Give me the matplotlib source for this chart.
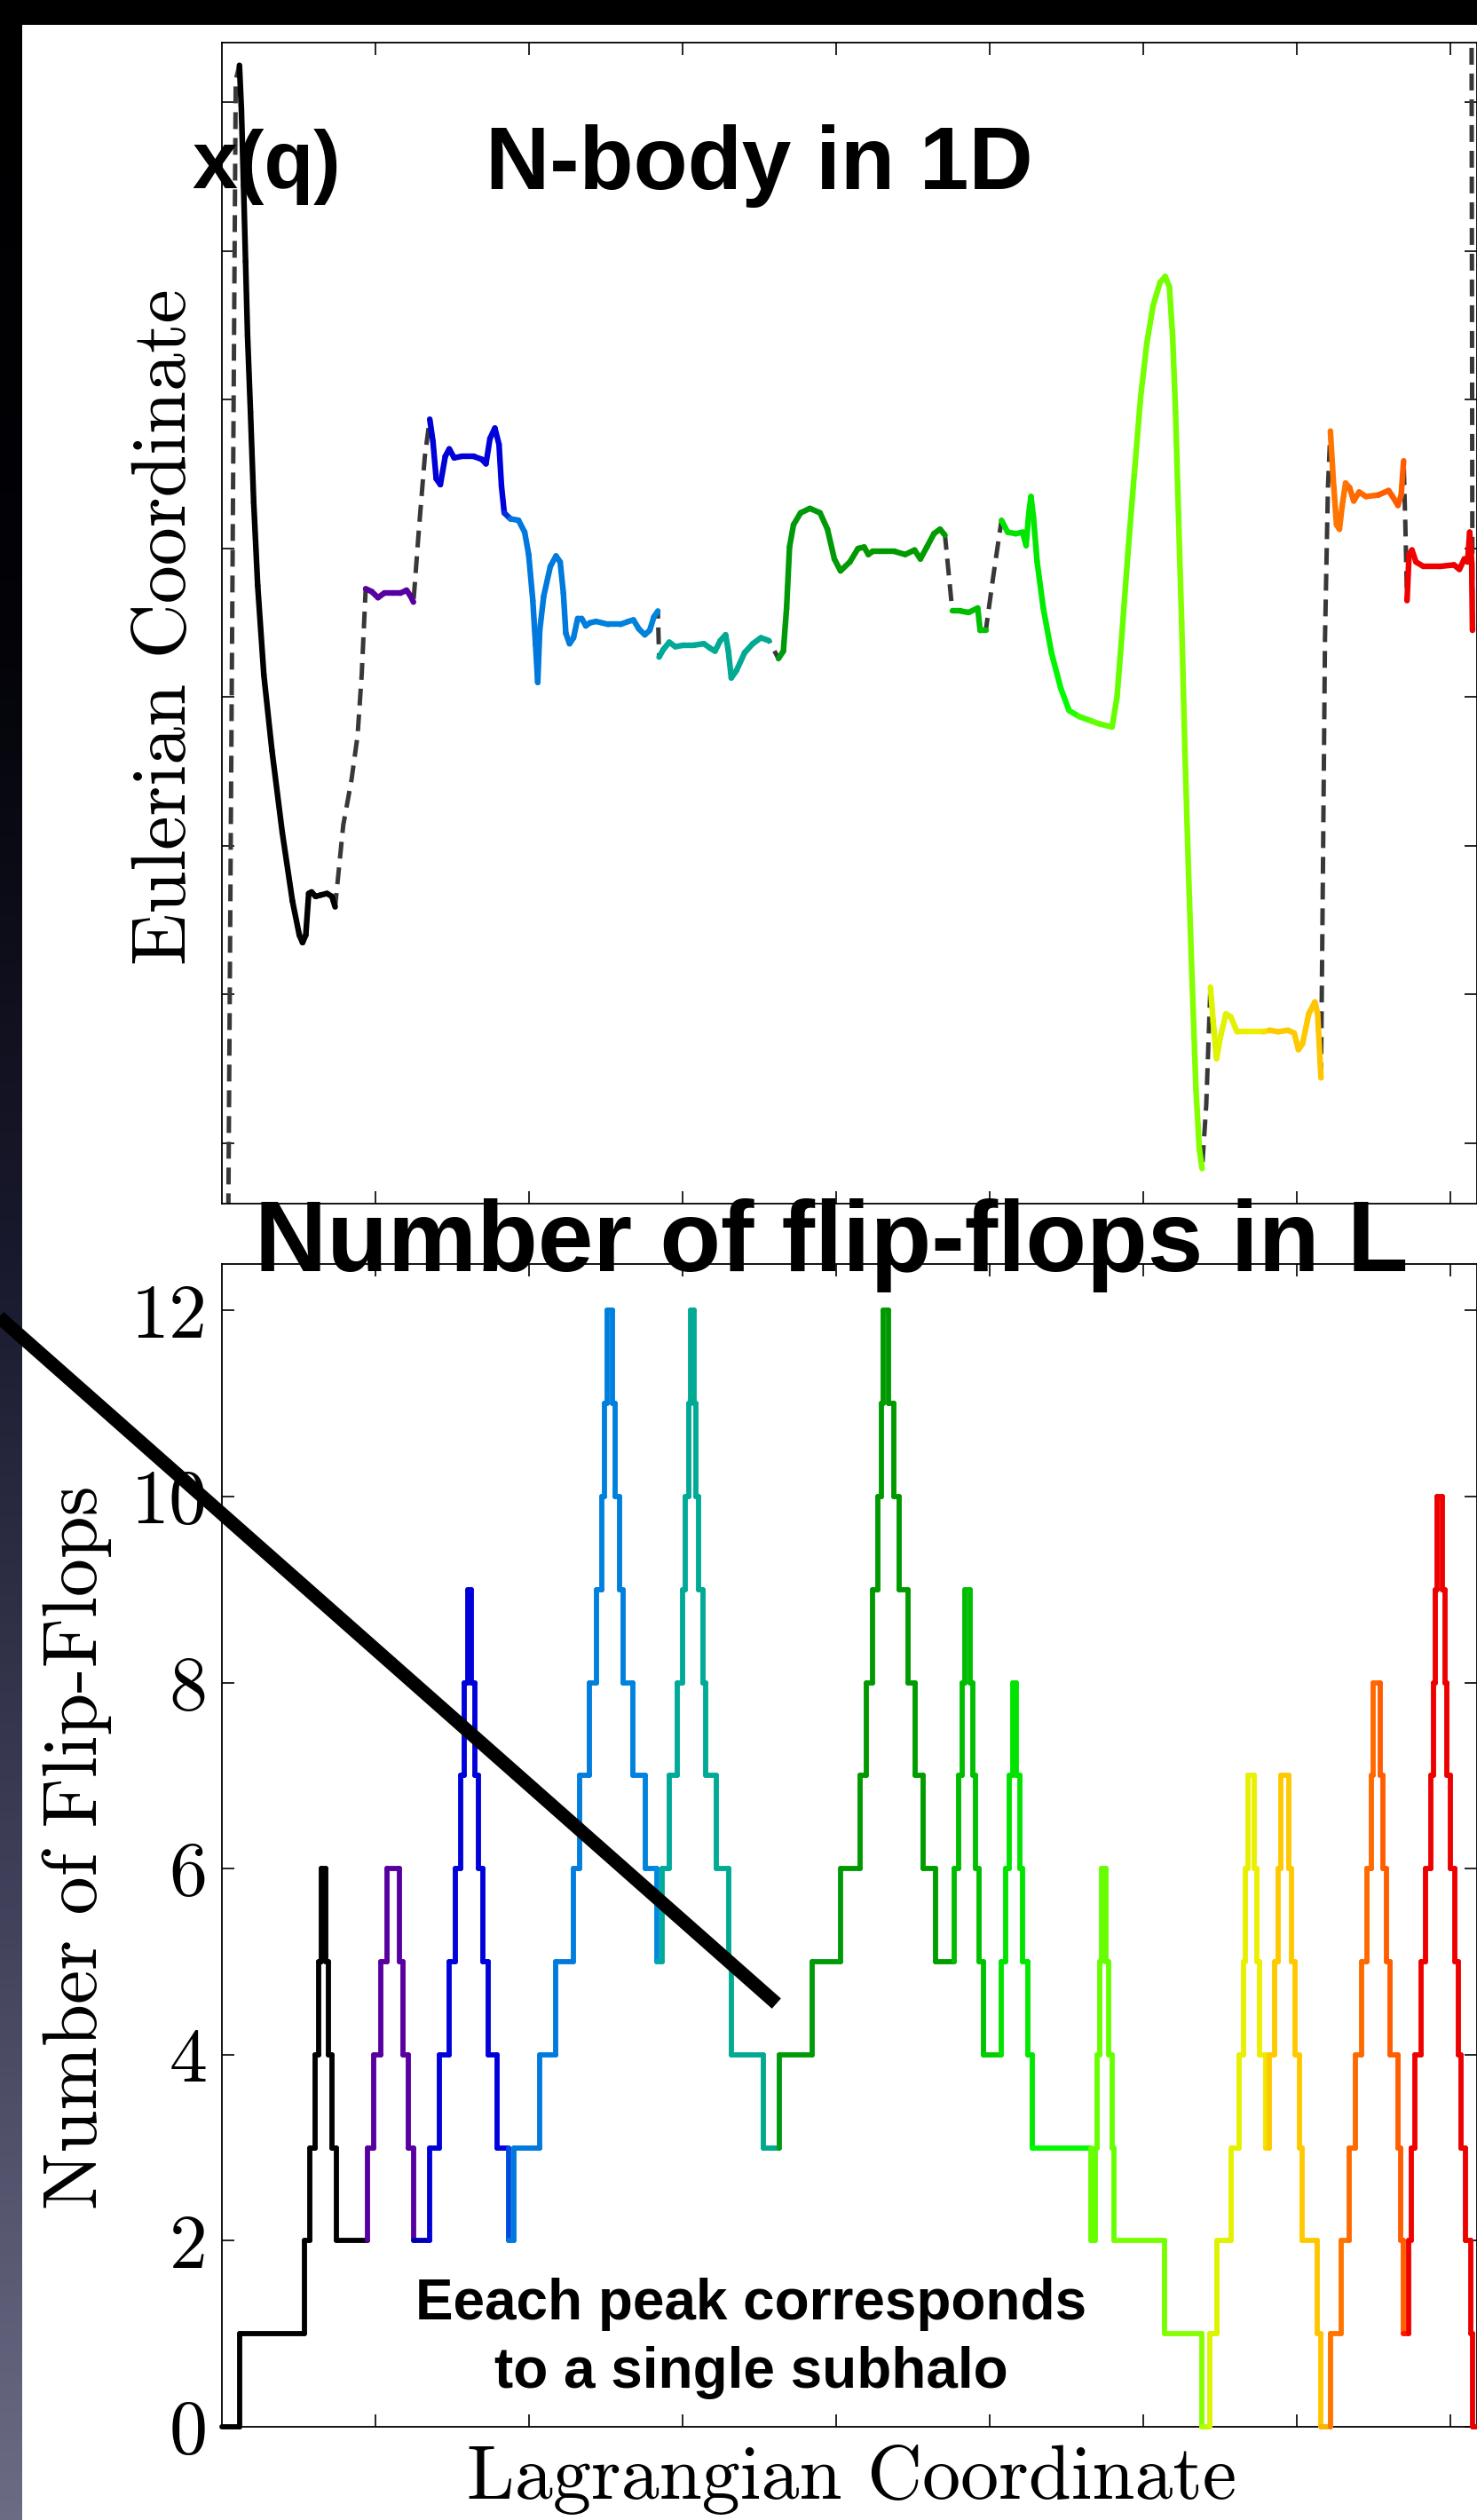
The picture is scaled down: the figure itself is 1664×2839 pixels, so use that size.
import numpy as np
import matplotlib
matplotlib.use("Agg")
import matplotlib.pyplot as plt
from matplotlib.collections import LineCollection
from matplotlib.colors import LinearSegmentedColormap
from matplotlib.patches import Rectangle

# ---------------------------------------------------------------------------
# top panel: Eulerian position x(q), one colored piece per subhalo
halo_black_q = [0.114, 0.127, 0.141, 0.154, 0.167, 0.186, 0.207, 0.233, 0.273, 0.326, 0.393,
                0.459, 0.504, 0.525, 0.546, 0.565, 0.584, 0.610, 0.645, 0.684, 0.716, 0.737]
halo_black_x = [8.25, 7.95, 7.44, 6.93, 6.43, 5.92, 5.31, 4.75, 4.15, 3.64, 3.09,
                2.63, 2.40, 2.35, 2.40, 2.68, 2.69, 2.66, 2.67, 2.68, 2.66, 2.59]

halo_purple_q = [0.936, 0.976, 1.016, 1.056, 1.109, 1.162, 1.202, 1.228, 1.247]
halo_purple_x = [4.73, 4.71, 4.67, 4.70, 4.70, 4.70, 4.72, 4.68, 4.64]

halo_blue_q = [1.353, 1.374, 1.395, 1.422, 1.454, 1.480, 1.512, 1.560, 1.639, 1.692,
               1.719, 1.745, 1.777, 1.804, 1.820, 1.838, 1.878, 1.931, 1.971, 1.997,
               2.024, 2.042, 2.056, 2.069, 2.095, 2.138, 2.175, 2.202, 2.223, 2.239,
               2.263, 2.289, 2.316, 2.342, 2.369, 2.395, 2.435, 2.515, 2.594, 2.647,
               2.679, 2.714, 2.753, 2.785, 2.812, 2.838]
halo_blue_x = [5.87, 5.72, 5.47, 5.43, 5.62, 5.67, 5.61, 5.62, 5.62, 5.60,
               5.57, 5.74, 5.81, 5.70, 5.42, 5.24, 5.20, 5.19, 5.11, 4.96,
               4.65, 4.35, 4.10, 4.45, 4.68, 4.88, 4.95, 4.91, 4.70, 4.43,
               4.36, 4.40, 4.53, 4.53, 4.48, 4.50, 4.51, 4.49, 4.49, 4.51,
               4.52, 4.46, 4.42, 4.45, 4.54, 4.58]

halo_teal_q = [2.846, 2.873, 2.912, 2.952, 3.005, 3.072, 3.138, 3.178, 3.210, 3.244,
               3.279, 3.297, 3.316, 3.350, 3.403, 3.456, 3.509, 3.562]
halo_teal_x = [4.27, 4.32, 4.37, 4.34, 4.35, 4.35, 4.36, 4.33, 4.31, 4.38,
               4.42, 4.31, 4.13, 4.18, 4.30, 4.36, 4.40, 4.38]

halo_green_q = [3.623, 3.655, 3.676, 3.695, 3.721, 3.767, 3.828, 3.894, 3.942, 3.987,
                4.027, 4.088, 4.141, 4.181, 4.208, 4.235, 4.301, 4.381, 4.448, 4.509,
                4.547, 4.589, 4.635, 4.675, 4.707]
halo_green_x = [4.26, 4.31, 4.60, 5.01, 5.16, 5.24, 5.27, 5.24, 5.13, 4.93,
                4.85, 4.91, 5.00, 5.01, 4.96, 4.98, 4.98, 4.98, 4.96, 4.99,
                4.93, 5.01, 5.10, 5.13, 5.09]

halo_green2_q = [4.755, 4.808, 4.861, 4.920, 4.936, 4.973]
halo_green2_x = [4.58, 4.58, 4.57, 4.60, 4.45, 4.45]

halo_lime_q = [5.075, 5.115, 5.168, 5.213, 5.235, 5.253, 5.267, 5.283, 5.307, 5.347,
               5.400, 5.461, 5.515, 5.581, 5.661, 5.715, 5.795, 5.827, 5.861, 5.901,
               5.941, 5.981, 6.021, 6.061, 6.107, 6.141, 6.168, 6.189, 6.208, 6.229,
               6.248, 6.269, 6.291, 6.315, 6.341, 6.363, 6.381]
halo_lime_x = [5.19, 5.11, 5.10, 5.11, 5.02, 5.24, 5.35, 5.21, 4.91, 4.60,
               4.30, 4.06, 3.91, 3.87, 3.84, 3.82, 3.80, 4.00, 4.45, 5.01,
               5.52, 6.02, 6.38, 6.63, 6.79, 6.83, 6.76, 6.43, 5.92, 5.16,
               4.50, 3.64, 2.88, 2.12, 1.36, 0.96, 0.83]

halo_yellow_q = [6.435, 6.453, 6.475, 6.501, 6.536, 6.568, 6.608, 6.675, 6.781, 6.821,
                 6.875, 6.941, 6.981, 7.008, 7.035, 7.075, 7.115, 7.133, 7.155]
halo_yellow_x = [2.05, 1.82, 1.57, 1.72, 1.87, 1.85, 1.75, 1.75, 1.75, 1.76,
                 1.75, 1.76, 1.74, 1.63, 1.67, 1.87, 1.95, 1.87, 1.44]

halo_orange_q = [7.216, 7.235, 7.256, 7.275, 7.293, 7.315, 7.341, 7.368, 7.403, 7.448,
                 7.528, 7.595, 7.621, 7.656, 7.677, 7.693]
halo_orange_x = [5.79, 5.46, 5.16, 5.13, 5.29, 5.44, 5.41, 5.32, 5.38, 5.35,
                 5.36, 5.39, 5.35, 5.29, 5.36, 5.59]

halo_red_q = [7.715, 7.728, 7.747, 7.773, 7.821, 7.928, 8.021, 8.056, 8.088, 8.109,
              8.123, 8.136, 8.141]
halo_red_x = [4.65, 4.96, 4.99, 4.91, 4.88, 4.88, 4.89, 4.86, 4.93, 4.91,
              5.11, 4.91, 4.45]

# dashed stretches between the subhalos (intermediate points only)
gap_start = ([0.042, 0.090], [0.55, 8.15])
gap_black_purple = ([0.790, 0.843, 0.883, 0.910], [3.14, 3.44, 3.74, 4.15])
gap_purple_blue = ([1.281, 1.321], [5.11, 5.62])
gap_green_green2 = ([4.733], [4.81])
gap_green2_lime = ([5.021], [4.81])
gap_lime_yellow = ([6.408], [1.26])
gap_yellow_orange = ([7.168, 7.181, 7.200], [2.88, 4.40, 5.41])
gap_orange_red = ([7.704], [5.16])
gap_end = ([8.138, 8.135], [6.50, 8.50])

# ---------------------------------------------------------------------------
# bottom panel: number of flip-flops (step, value starts at flip_q[i])
flip_q = [0.000, 0.114, 0.538, 0.573, 0.605, 0.631, 0.645, 0.674, 0.692, 0.719, 0.745,
          0.950, 0.989, 1.034, 1.074, 1.157, 1.180, 1.215, 1.249,
          1.355, 1.414, 1.480, 1.520, 1.554, 1.578, 1.599, 1.626, 1.645, 1.671, 1.698, 1.732, 1.790, 1.865,
          1.899, 2.069, 2.170, 2.289, 2.329, 2.395, 2.440, 2.475, 2.493, 2.507, 2.541, 2.560, 2.586, 2.613, 2.674, 2.759, 2.833,
          2.867, 2.912, 2.966, 2.997, 3.019, 3.037, 3.050, 3.072, 3.085, 3.103, 3.130, 3.151, 3.218, 3.297, 3.318, 3.523,
          3.629, 3.841, 4.030, 4.155, 4.195, 4.235, 4.269, 4.296, 4.307, 4.341, 4.376, 4.408, 4.469, 4.515, 4.563, 4.648,
          4.768, 4.795, 4.821, 4.835, 4.869, 4.888, 4.907, 4.928, 4.955,
          5.075, 5.101, 5.128, 5.147, 5.173, 5.195, 5.213, 5.248, 5.275,
          5.656, 5.683, 5.696, 5.715, 5.728, 5.755, 5.773, 5.795, 5.808, 6.136, 6.381,
          6.429, 6.475, 6.568, 6.621, 6.648, 6.661, 6.680, 6.720, 6.736, 6.755, 6.795,
          6.821, 6.853, 6.875, 6.896, 6.947, 6.960, 6.987, 7.013, 7.035, 7.128, 7.155,
          7.216, 7.288, 7.336, 7.381, 7.421, 7.456, 7.480, 7.496, 7.541, 7.560, 7.581, 7.603, 7.656, 7.675, 7.693,
          7.723, 7.741, 7.768, 7.808, 7.835, 7.869, 7.888, 7.901, 7.909, 7.947, 7.960, 7.976, 7.995, 8.027, 8.048, 8.069, 8.096, 8.128, 8.141]
flip_n = [0, 1, 2, 3, 4, 5, 6, 5, 4, 3, 2,
          3, 4, 5, 6, 5, 4, 3, 2,
          3, 4, 5, 6, 7, 8, 9, 8, 7, 6, 5, 4, 3, 2,
          3, 4, 5, 6, 7, 8, 9, 10, 11, 12, 11, 10, 9, 8, 7, 6, 5,
          6, 7, 8, 9, 10, 11, 12, 11, 10, 9, 8, 7, 6, 5, 4, 3,
          4, 5, 6, 7, 8, 9, 10, 11, 12, 11, 10, 9, 8, 7, 6, 5,
          6, 7, 8, 9, 8, 7, 6, 5, 4,
          5, 6, 7, 8, 7, 6, 5, 4, 3,
          2, 3, 4, 5, 6, 5, 4, 3, 2, 1, 0,
          1, 2, 3, 4, 5, 6, 7, 6, 5, 4, 3,
          4, 5, 6, 7, 6, 5, 4, 3, 2, 1, 0,
          1, 2, 3, 4, 5, 6, 7, 8, 7, 6, 5, 4, 3, 2, 1,
          2, 3, 4, 5, 6, 7, 8, 9, 10, 9, 8, 7, 6, 5, 4, 3, 2, 1, 0]

Q_MAX = 8.17

# position along q -> nipy_spectral value (subhalo colouring)
color_q = [0.0, 0.92, 0.95, 1.26, 1.34, 1.84, 1.88, 2.83, 2.86, 3.58, 3.62, 4.72, 4.76,
           4.99, 5.05, 5.30, 5.65, 6.40, 6.42, 6.79, 6.82, 7.17, 7.21, 7.70, 7.72, 8.20]
color_c = [0.0, 0.0, 0.12, 0.12, 0.195, 0.20, 0.25, 0.27, 0.375, 0.39, 0.445, 0.455, 0.50,
           0.51, 0.555, 0.565, 0.625, 0.635, 0.68, 0.70, 0.75, 0.755, 0.81, 0.82, 0.87, 0.88]
cmap = plt.get_cmap('nipy_spectral')


def colored_line(ax, q, y, lw, clip=True):
    pts = np.column_stack([q, y])
    segs = np.stack([pts[:-1], pts[1:]], axis=1)
    mid = 0.5 * (pts[:-1, 0] + pts[1:, 0])
    lc = LineCollection(segs, colors=cmap(np.interp(mid, color_q, color_c)),
                        linewidths=lw, capstyle='round', joinstyle='round', zorder=3)
    lc.set_clip_on(clip)
    ax.add_collection(lc)


def style_axes(ax):
    for s in ax.spines.values():
        s.set_linewidth(1.3)
    ax.tick_params(which='both', direction='in', length=10, width=1.2,
                   top=True, right=True, labelbottom=False)


fig = plt.figure(figsize=(16.65, 28.39), dpi=100)

# slide background: dark gradient with the white picture on it
bg = fig.add_axes([0, 0, 1, 1], zorder=-10)
bg.set_axis_off()
slide = LinearSegmentedColormap.from_list(
    'slide', [(0.0, (0, 0, 0)), (0.25, (0.01, 0.01, 0.03)), (0.5, (0.1, 0.1, 0.18)),
              (0.75, (0.25, 0.25, 0.35)), (1.0, (0.42, 0.42, 0.52))])
bg.imshow(np.linspace(0, 1, 256).reshape(-1, 1), aspect='auto', cmap=slide,
          extent=[0, 1, 0, 1])
bg.add_patch(Rectangle((25 / 1665, 0), 1, 1 - 28 / 2839, facecolor='white',
                       edgecolor='none', transform=bg.transAxes))
bg.set_xlim(0, 1)
bg.set_ylim(0, 1)

# ---------------------------------------------------------------------------
ax1 = fig.add_axes([0.15015, 0.52237, 0.8492, 0.46055])
ax1.set_facecolor('none')

pieces = [(halo_black_q, halo_black_x), (halo_purple_q, halo_purple_x),
          (halo_blue_q, halo_blue_x), (halo_teal_q, halo_teal_x),
          (halo_green_q, halo_green_x), (halo_green2_q, halo_green2_x),
          (halo_lime_q, halo_lime_x), (halo_yellow_q, halo_yellow_x),
          (halo_orange_q, halo_orange_x), (halo_red_q, halo_red_x)]
order = [gap_start, pieces[0], gap_black_purple, pieces[1], gap_purple_blue, pieces[2],
         pieces[3], pieces[4], gap_green_green2, pieces[5], gap_green2_lime, pieces[6],
         gap_lime_yellow, pieces[7], gap_yellow_orange, pieces[8], gap_orange_red,
         pieces[9], gap_end]
all_q = np.concatenate([p[0] for p in order])
all_x = np.concatenate([p[1] for p in order])
ax1.plot(all_q, all_x, color='#383838', lw=3.6, ls=(0, (3.8, 2.0)), zorder=2)
for q, x in pieces:
    colored_line(ax1, q, x, 4.6)

ax1.set_xlim(0, Q_MAX)
ax1.set_ylim(0.594, 8.40)
ax1.set_xticks(range(1, 9))
ax1.set_yticks(range(1, 9))
style_axes(ax1)
ax1.tick_params(labelleft=False)

# ---------------------------------------------------------------------------
ax2 = fig.add_axes([0.15015, 0.036985, 0.8492, 0.46143])
ax2.set_facecolor('none')

edges = np.append(flip_q, Q_MAX)
step_q = np.repeat(edges, 2)[1:-1]
step_n = np.repeat(flip_n, 2)
colored_line(ax2, step_q, step_n, 4.2, clip=False)

ax2.set_xlim(0, Q_MAX)
ax2.set_ylim(0, 12.5)
ax2.set_xticks(range(1, 9))
ax2.set_yticks(range(0, 13, 2))
style_axes(ax2)
ax2.tick_params(axis='y', labelsize=62, pad=12, labelfontfamily='cmr10')

# pointer line across the lower panel
ax2.plot([-1.45, 3.61], [11.93, 4.55], color='black', lw=11,
         solid_capstyle='butt', clip_on=False, zorder=10)

# ---------------------------------------------------------------------------
serif = dict(family='cmr10', fontsize=62)
fig.text(209 / 1665, 0.7513, 'Eulerian Coordinate', rotation=90,
         rotation_mode='anchor', ha='center', va='baseline', **serif)
fig.text(109 / 1665, 0.267, 'Number of Flip-Flops', rotation=90,
         rotation_mode='anchor', ha='center', va='baseline', **serif)
fig.text(0.5766, 0.00845, 'Lagrangian Coordinate', ha='center', va='baseline', **serif)

bold = dict(family='Liberation Sans', weight='bold', color='black', zorder=20)
fig.text(0.1803, 0.9253, 'x(q)', ha='center', va='baseline', fontsize=66, **bold)
fig.text(0.5135, 0.9250, 'N-body in 1D', ha='center', va='baseline', fontsize=72, **bold)
fig.text(0.5628, 0.4956, 'Number of flip-flops in L', ha='center', va='baseline',
         fontsize=81, **bold)
fig.text(0.5083, 0.0796, 'Eeach peak corresponds', ha='center', va='baseline',
         fontsize=46, **bold)
fig.text(0.5083, 0.0525, 'to a single subhalo', ha='center', va='baseline',
         fontsize=46, **bold)

fig.savefig('out.png', dpi=100)
